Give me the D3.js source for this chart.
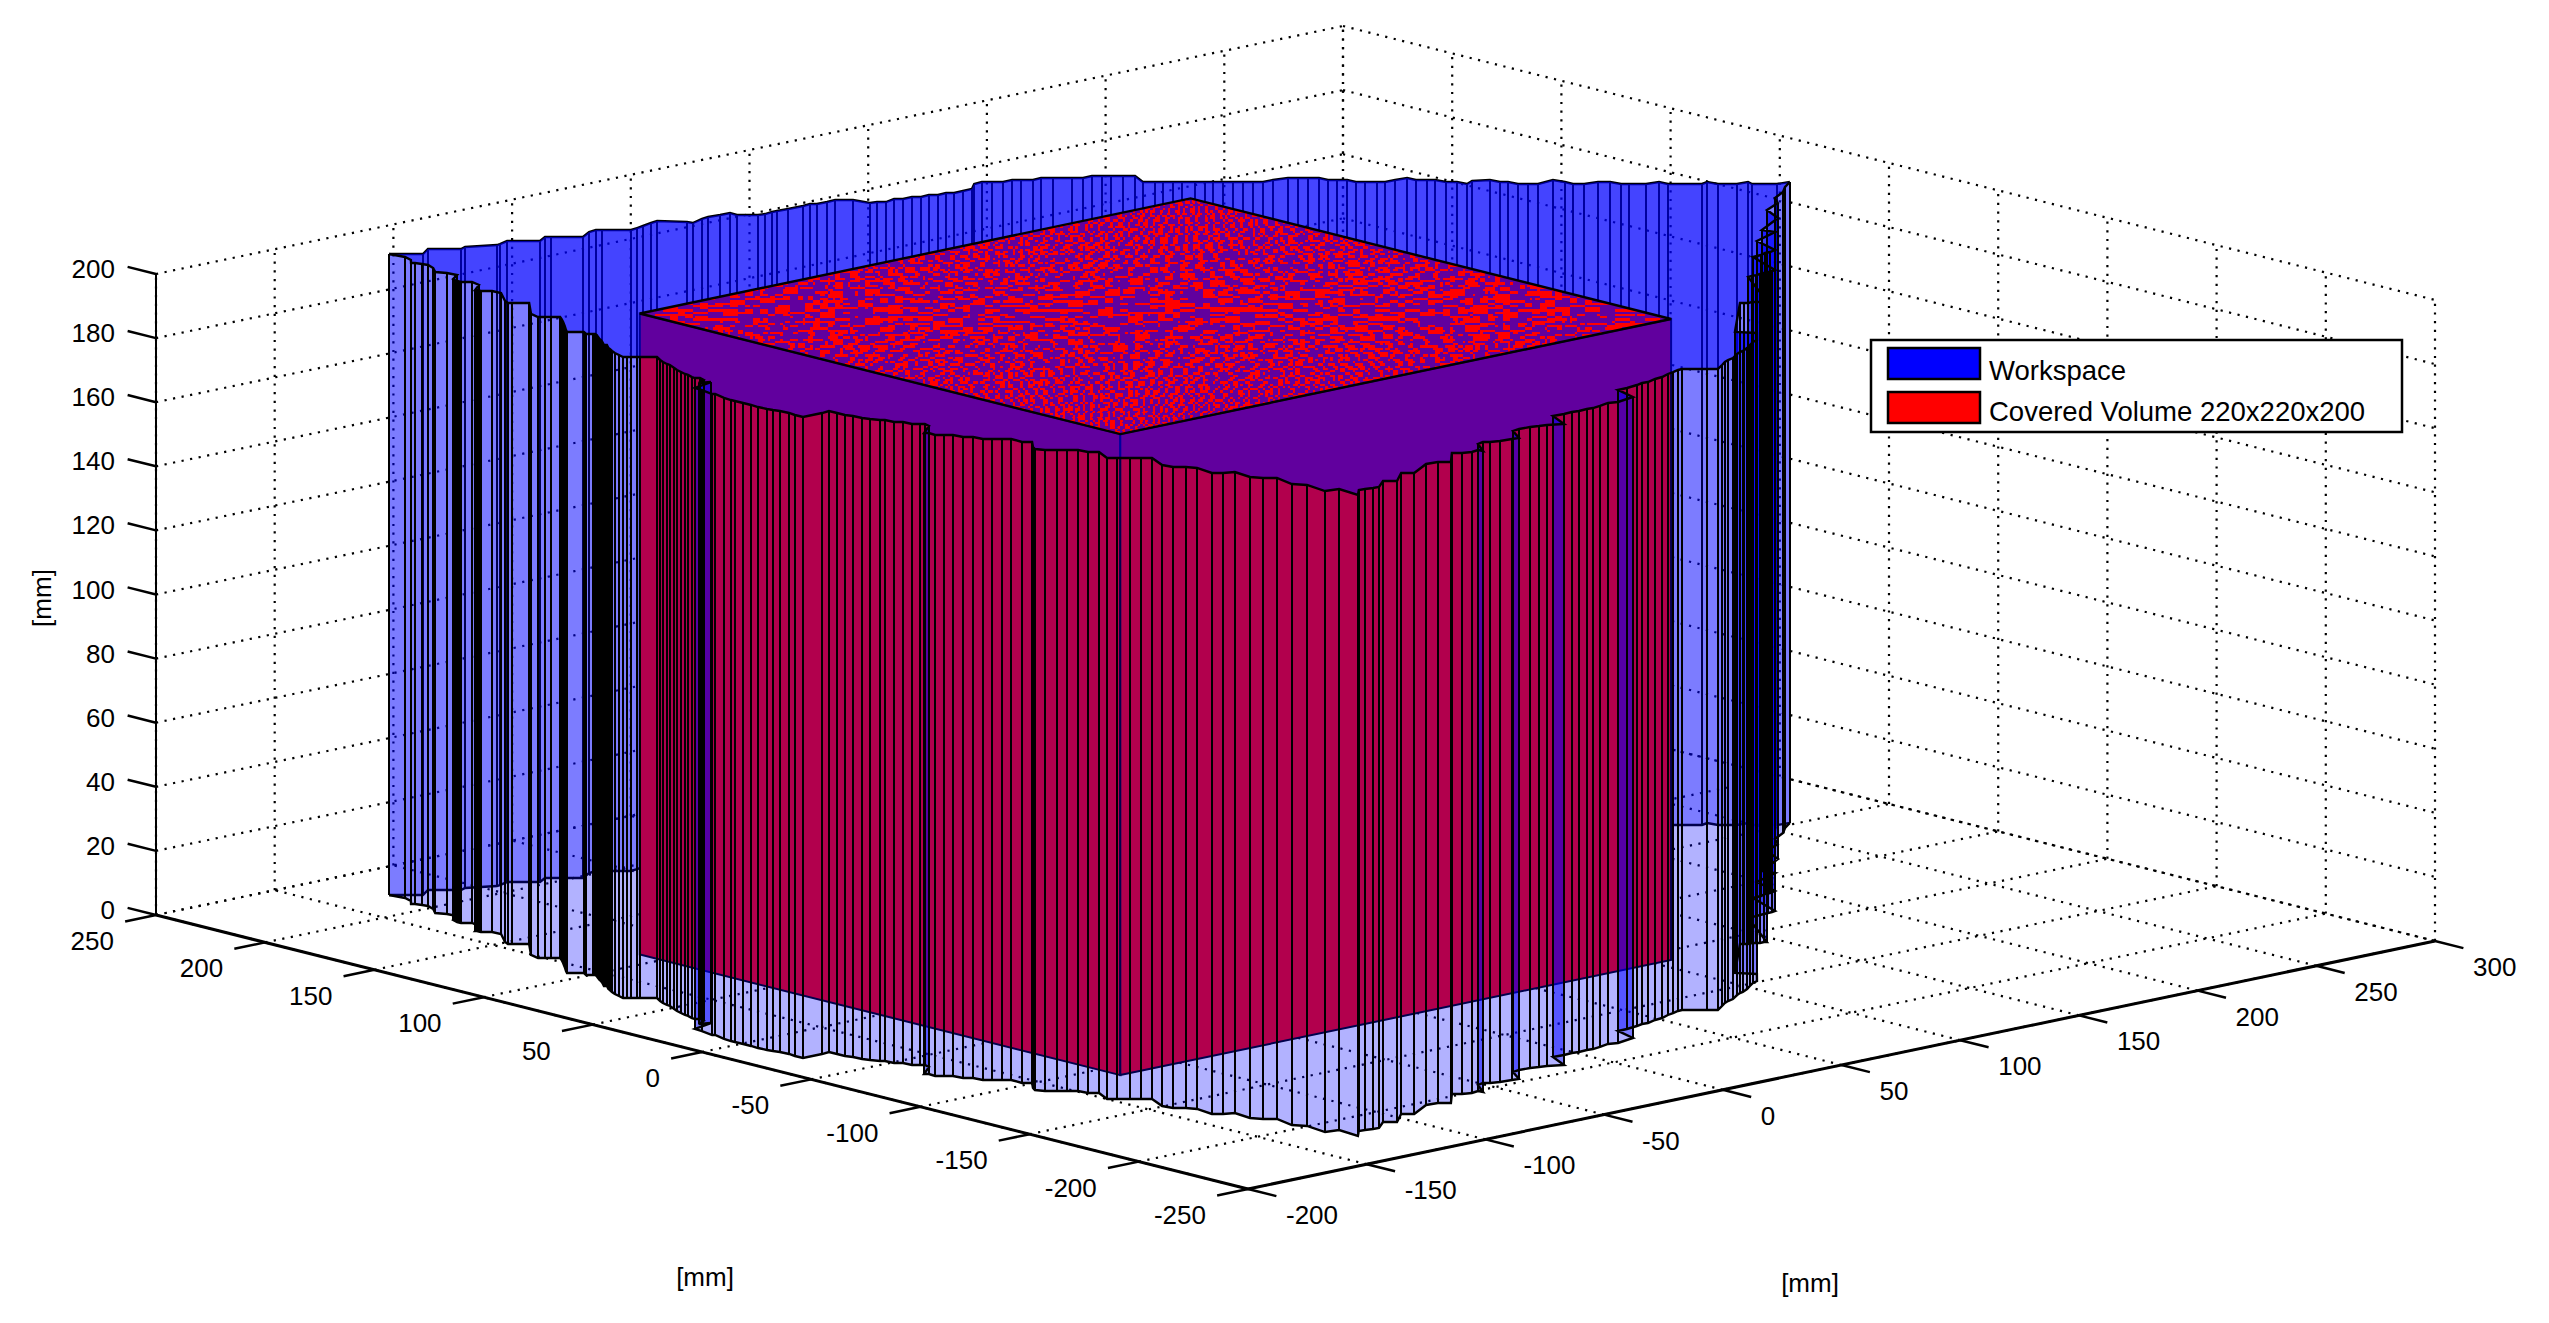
<!DOCTYPE html>
<html><head><meta charset="utf-8"><script src="https://cdn.jsdelivr.net/npm/d3@7"></script>
<style>html,body{margin:0;padding:0;background:#fff}svg{display:block}text{font-family:"Liberation Sans",Arial,sans-serif;fill:#000}</style></head><body><svg id="c" width="2549" height="1323"></svg>
<script>
// Workspace boundary, in mm: far side of the wall
const backX=[-128.1,-120.3,-114.6,-107.0,-104.2,-95.1,-93.5,-89.1,-81.5,-76.7,-75.3,-68.0,-62.0,
-58.6,-57.2,-50.5,-47.3,-44.1,-39.5,-36.3,-30.3,-29.9,-24.1,-20.9,-16.3,-12.2,
-12.4,-7.6,-5.1,-1.6,0.4,4.8,11.0,14.4,16.0,20.2,23.9,28.0,29.1,
31.7,33.7,38.3,40.4,44.3,46.4,50.0,52.1,55.8,57.6,61.5,65.4,70.5,
74.1,76.4,79.0,82.9,84.9,87.7,91.4,94.1,98.5,101.0,104.9,107.2,109.3,
112.0,114.8,111.1,113.9,115.7,118.0,120.1,123.1,125.4,127.2,129.5,131.8,134.1,
136.4,138.7,142.8,148.1,150.4,152.7,155.2,155.5,157.6,159.9,160.1,162.2,164.9,
166.8,170.9,175.5,175.7,178.2,180.1,180.8,183.3,183.8,187.7,192.7,193.2,195.0,
195.5,197.8,200.1,207.2,208.1,208.1,210.7,215.7,218.5,219.2,221.0,224.9,229.7,
230.0,237.8,240.8,241.5,245.8,250.2,249.3,255.0,259.8];
const backY=[221.4,214.4,218.3,211.4,212.6,207.9,208.3,209.8,203.0,205.9,204.7,198.0,201.7,
202.3,201.0,195.0,195.7,196.5,197.8,198.5,191.3,189.1,191.2,191.9,191.4,191.3,
187.9,183.5,183.0,183.6,183.5,183.2,183.1,183.6,182.2,182.1,182.4,178.7,172.2,
171.7,169.8,171.1,169.3,169.4,167.5,167.9,166.0,166.3,164.6,164.8,164.9,169.4,
169.8,167.7,165.4,165.5,163.6,161.2,161.5,159.0,155.0,152.7,152.9,150.8,148.9,
146.4,143.9,136.3,133.8,132.1,130.0,128.2,125.5,123.4,121.7,119.6,117.6,115.5,
113.4,111.3,111.2,110.1,108.0,105.9,103.6,99.8,97.9,95.8,92.0,90.1,87.6,
85.9,85.8,85.3,81.5,79.2,77.5,73.2,71.0,66.9,68.8,66.1,62.0,60.3,
56.3,54.2,52.1,53.0,48.5,44.8,42.5,41.6,39.1,34.8,33.2,29.6,28.9,
25.1,18.0,18.9,14.7,10.7,10.4,7.6,2.4,1.7];
// near side of the wall
const frontX=[-128.1,-127.2,-128.6,-131.3,
-130.4,-129.7,-129.2,-130.8,-134.0,-132.2,-131.7,-136.3,-136.8,-137.2,-137.2,-137.2,-134.7,
-135.8,-141.3,-140.9,-140.9,-140.9,-138.3,-138.1,-144.5,-145.7,-144.7,-140.8,-150.4,-151.6,
-150.0,-148.6,-146.5,-148.0,-150.4,-153.7,-157.1,-158.7,-154.8,-156.1,-154.5,-154.1,-154.6,
-156.1,-157.6,-158.2,-159.7,-162.1,-161.7,-161.4,-163.8,-164.4,-165.7,-166.9,-167.8,-168.7,
-167.8,-166.9,-165.5,-164.8,-160.9,-162.9,-164.1,-165.0,-165.2,-167.0,-168.2,-169.1,-170.0,
-170.2,-171.2,-171.4,-170.2,-171.1,-175.1,-171.4,-180.5,-180.8,-182.1,-181.4,-183.0,-183.3,
-183.3,-183.2,-183.2,-183.5,-183.2,-182.8,-182.1,-181.8,-182.3,-182.3,-174.3,-170.8,-170.8,
-170.8,-169.9,-169.6,-168.7,-167.3,-166.2,-165.9,-163.9,-163.6,-161.8,-160.7,-161.6,-169.1,
-168.0,-168.4,-166.4,-164.3,-163.8,-161.5,-161.1,-159.0,-156.7,-154.6,-154.8,-152.5,-156.9,
-158.3,-156.9,-154.1,-151.8,-149.3,-148.8,-146.3,-150.0,-147.7,-144.7,-142.2,-139.6,-143.7,
-143.0,-140.1,-138.4,-139.6,-137.0,-133.4,-134.5,-132.4,-129.2,-131.3,-128.7,-130.1,-125.0,
-126.2,-121.4,-119.1,-116.3,-114.0,-107.6,-104.4,-96.1,-93.1,-82.1,-77.6,-74.6,-66.1,
-63.8,-60.6,-57.4,-57.1,-51.9,-48.9,-47.3,-44.1,-39.5,-36.9,-31.9,-28.7,-24.3,
-21.4,-18.6,-13.8,-9.0,-4.6,-1.0,1.6,5.2,7.5,11.0,15.6,18.8,26.8,
29.8,33.7,38.7,41.7,44.0,48.4,51.8,55.9,58.9,61.9,63.7,69.5,72.0,
76.6,80.0,82.5,85.5,90.1,92.6,94.2,97.9,101.3,104.8,107.5,113.9,109.8,
137.5,138.4,139.3,141.2,142.1,143.0,144.9,145.5,163.2,165.0,166.8,168.7,170.5,
172.3,174.2,175.8,182.6,184.5,186.3,189.1,191.1,194.1,198.2,210.6,209.4,224.1,
228.9,237.8,241.7,249.1,254.1,259.8];
const frontY=[221.4,215.1,210.9,207.9,
207.1,204.6,202.4,198.3,193.9,190.5,186.4,183.2,181.8,180.4,179.5,178.6,176.3,
171.9,167.7,167.3,166.4,165.5,163.2,159.3,150.5,147.9,147.1,143.5,132.2,127.7,
126.3,125.0,123.1,120.8,117.5,113.2,108.9,106.7,103.2,100.8,99.3,98.9,97.6,
95.3,93.0,91.7,89.4,86.1,85.8,85.5,82.2,80.9,78.5,75.9,73.0,70.2,
69.4,68.5,67.3,66.7,63.1,59.5,56.9,54.1,52.5,48.6,46.0,43.2,40.4,
38.8,35.9,34.3,33.3,30.7,28.6,27.0,24.4,20.9,14.8,14.2,8.4,4.9,
3.1,-0.6,-4.2,-7.7,-11.5,-13.8,-16.2,-20.1,-23.3,-27.0,-27.0,-26.4,-30.1,
-33.7,-36.4,-40.3,-42.9,-46.0,-47.0,-50.9,-52.8,-56.6,-58.3,-59.3,-62.2,-68.1,
-69.1,-72.4,-74.2,-76.1,-80.2,-82.3,-86.3,-88.2,-90.3,-92.2,-97.4,-99.5,-104.7,
-107.1,-110.2,-112.7,-114.8,-117.1,-121.1,-123.4,-131.1,-133.1,-135.8,-138.1,-140.4,-149.5,
-153.7,-156.4,-159.7,-167.8,-170.1,-171.6,-179.7,-183.4,-186.3,-195.4,-199.5,-209.3,-210.2,
-220.1,-215.3,-215.6,-216.3,-216.5,-211.4,-214.3,-207.2,-209.9,-203.4,-203.9,-206.6,-197.8,
-199.9,-201.0,-200.3,-202.3,-194.3,-193.3,-194.8,-195.9,-196.4,-196.8,-188.6,-187.9,-188.2,
-189.1,-189.7,-192.3,-182.0,-182.3,-182.0,-182.4,-182.1,-182.4,-181.8,-180.5,-181.6,-179.7,
-169.6,-169.5,-168.6,-167.7,-167.9,-166.4,-165.9,-164.1,-163.2,-162.2,-162.1,-167.3,-169.5,
-166.4,-164.0,-162.7,-161.7,-158.6,-157.2,-156.8,-154.7,-152.3,-149.9,-148.8,-141.8,-136.2,
-108.4,-109.2,-110.1,-109.9,-110.7,-111.6,-111.4,-112.0,-84.2,-84.0,-83.9,-83.7,-83.5,
-83.4,-83.2,-82.8,-65.3,-65.1,-65.0,-63.8,-63.9,-62.9,-50.2,-45.0,-40.3,-31.7,
-21.4,-16.7,-11.1,-6.8,-2.3,1.7];
const wallZ=[0,200];
const boxX=[-125,107],boxY=[-110,110],boxZ=[0,200];
const xTicks=d3.range(-200,301,50),yTicks=d3.range(-250,251,50),zTicks=d3.range(0,201,20);
const legendLabels=['Workspace','Covered Volume 220x220x200'];
const axisLabel='[mm]';

const backWall=backX.map((X,i)=>({X,Y:backY[i]})),frontWall=frontX.map((X,i)=>({X,Y:frontY[i]}));
const xPx=d3.scaleLinear([-200,300],[0,1187]),yPx=d3.scaleLinear([-250,250],[1248,156]);
const xPy=d3.scaleLinear([-200,300],[0,-248]),yPy=d3.scaleLinear([-250,250],[1189,915]),zPy=d3.scaleLinear([0,200],[0,-641]);
const P=(X,Y,Z)=>[xPx(X)+yPx(Y),xPy(X)+yPy(Y)+zPy(Z)];
const svg=d3.select('#c');
const line=(g,p,q,sw,dash,col)=>{const l=g.append('line').attr('x1',p[0]).attr('y1',p[1]).attr('x2',q[0]).attr('y2',q[1]).attr('stroke',col||'#000').attr('stroke-width',sw);if(dash)l.attr('stroke-dasharray',dash);return l;};
const path=pts=>'M'+pts.map(p=>p[0].toFixed(1)+','+p[1].toFixed(1)).join('L')+'Z';
const [z0,z1]=wallZ;
// grid
const grid=svg.append('g'),DD='2.2 6.5';
xTicks.forEach(x=>{line(grid,P(x,-250,z0),P(x,250,z0),2.2,DD);line(grid,P(x,250,z0),P(x,250,z1),2.2,DD);});
yTicks.forEach(y=>{line(grid,P(-200,y,z0),P(300,y,z0),2.2,DD);line(grid,P(300,y,z0),P(300,y,z1),2.2,DD);});
zTicks.forEach(z=>{line(grid,P(-200,250,z),P(300,250,z),2.2,DD);line(grid,P(300,250,z),P(300,-250,z),2.2,DD);});
// axes
const ax=svg.append('g');
line(ax,P(-200,250,z0),P(-200,250,z1),2);
line(ax,P(-200,250,z0),P(-200,-250,z0),3);
line(ax,P(-200,-250,z0),P(300,-250,z0),3);
const txt=(g,x,y,s,anchor,size)=>g.append('text').attr('x',x).attr('y',y).attr('text-anchor',anchor||'start').attr('dominant-baseline','central').attr('font-size',size||26).text(s);
zTicks.forEach(z=>{const p=P(-200,250,z);line(ax,p,P(-200,263,z),2.5);txt(ax,p[0]-41,p[1]-5,z,'end');});
yTicks.forEach(y=>{const p=P(-200,y,z0);line(ax,p,P(-213,y,z0),2.5);txt(ax,p[0]-42,p[1]+26,y,'end');});
xTicks.forEach(x=>{const p=P(x,-250,z0);line(ax,p,P(x,-263,z0),2.5);txt(ax,p[0]+38,p[1]+26,x);});
[[705,1277,0],[1810,1283,0],[42,598,-90]].forEach(t=>ax.append('text').attr('transform',`translate(${t[0]},${t[1]}) rotate(${t[2]})`).attr('text-anchor','middle').attr('dominant-baseline','central').attr('font-size',26).text(axisLabel));
// walls
function wall(pts,g){
 const f=g.append('g');
 d3.pairs(pts).forEach(([u,v])=>f.append('path').attr('d',path([P(u.X,u.Y,z0),P(v.X,v.Y,z0),P(v.X,v.Y,z1),P(u.X,u.Y,z1)])).attr('fill','#0000ff').attr('fill-opacity',.3));
 const s=g.append('g');
 const lp=d3.line().x(p=>p[0]).y(p=>p[1]);
 pts.forEach(u=>line(s,P(u.X,u.Y,z0),P(u.X,u.Y,z1),2,null,'#000').attr('shape-rendering','crispEdges'));
 s.append('path').attr('d',lp(pts.map(u=>P(u.X,u.Y,z1)))).attr('fill','none').attr('stroke','#000').attr('stroke-width',2.4);
 s.append('path').attr('d',lp(pts.map(u=>P(u.X,u.Y,z0)))).attr('fill','none').attr('stroke','#000').attr('stroke-width',2.4);
}
wall(backWall,svg.append('g'));
// covered volume
const b0=svg.append('g');
const [xa,xb]=boxX,[ya,yb]=boxY,[bz0,bz1]=boxZ;
const topFace=[P(xa,ya,bz1),P(xb,ya,bz1),P(xb,yb,bz1),P(xa,yb,bz1)];
b0.append('path').attr('d',path([P(xa,ya,bz0),P(xa,yb,bz0),P(xa,yb,bz1),P(xa,ya,bz1)])).attr('fill','#f00').attr('stroke','#000').attr('stroke-width',2);
b0.append('path').attr('d',path([P(xa,ya,bz0),P(xb,ya,bz0),P(xb,ya,bz1),P(xa,ya,bz1)])).attr('fill','#f00').attr('stroke','#000').attr('stroke-width',2);
b0.append('path').attr('d',path(topFace)).attr('fill','#f00');
// cap of the workspace
svg.append('path').attr('d',path(backWall.concat(frontWall.slice().reverse()).map(u=>P(u.X,u.Y,z1)))).attr('fill','#0000ff').attr('fill-opacity',.62);
// coplanar-face interference texture on the box top
const W=420,H=110,cv=document.createElement('canvas');cv.width=W;cv.height=H;const cx=cv.getContext('2d');
const id=cx.createImageData(W,H);
for(let j=0;j<H;j++)for(let i=0;i<W;i++){const u=i-205,v=j-49,ii=Math.floor(i/3);
 let n=0.731*ii*ii+0.1173*j*j+0.0417*ii*j;n-=Math.floor(n);
 let f=0.0075*u*v+0.002*v*v+0.68*n;f-=Math.floor(f);
 const k=(i+j*W)*4;id.data[k]=255;id.data[k+3]=f<0.42?255:0;}
cx.putImageData(id,0,0);
svg.append('clipPath').attr('id','top').append('path').attr('d',path(topFace));
svg.append('g').attr('clip-path','url(#top)').append('image').attr('href',cv.toDataURL()).attr('x',640).attr('y',199).attr('width',1050).attr('height',247.5).style('image-rendering','pixelated').attr('preserveAspectRatio','none');
svg.append('path').attr('d',path(topFace)).attr('fill','none').attr('stroke','#000').attr('stroke-width',2.4);
wall(frontWall,svg.append('g'));
// legend
const L=svg.append('g');
L.append('rect').attr('x',1871).attr('y',340).attr('width',531).attr('height',92).attr('fill','#fff').attr('stroke','#000').attr('stroke-width',2.5);
[[legendLabels[0],'#00f',348,370],[legendLabels[1],'#f00',392,411]].forEach(r=>{
 L.append('rect').attr('x',1888).attr('y',r[2]).attr('width',92).attr('height',31).attr('fill',r[1]).attr('stroke','#000').attr('stroke-width',2.5);
 txt(L,1989,r[3],r[0],'start',27.5);});
</script></body></html>
